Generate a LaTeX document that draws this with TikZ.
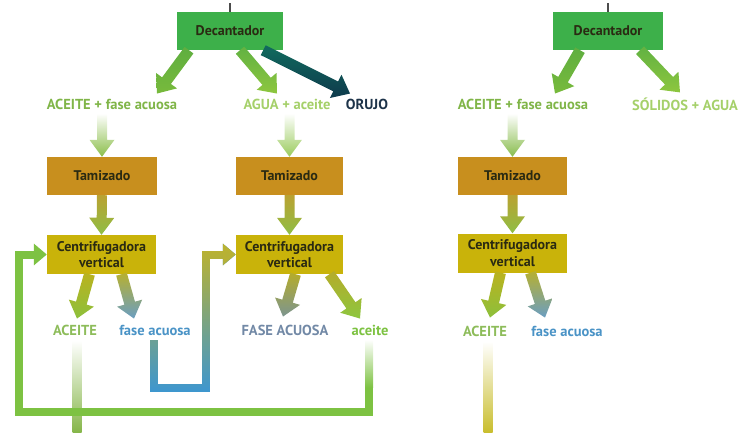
\documentclass[tikz,border=0pt]{standalone}
\usepackage{fontspec}
\setmainfont{PT Sans}
\usetikzlibrary{calc,arrows.meta,fadings}

\definecolor{decgreen}{HTML}{3DB04A}
\definecolor{tamgold}{HTML}{C88F1E}
\definecolor{cenolive}{HTML}{C9B30A}
\definecolor{boxtext}{HTML}{2A2A12}
\definecolor{loopgreen}{HTML}{7DC242}
\definecolor{loopblue}{HTML}{3E97D0}
\definecolor{loopolive}{HTML}{B9B233}
\definecolor{labgreen}{HTML}{80B548}
\definecolor{labltgreen}{HTML}{A5D06A}
\definecolor{labnavy}{HTML}{1D3349}
\definecolor{labblue}{HTML}{4A93C6}
\definecolor{labslate}{HTML}{7289A6}
% arrow gradient ends
\definecolor{decA}{HTML}{5FAE40}
\definecolor{decB}{HTML}{78BA3C}
\definecolor{decC}{HTML}{62B242}
\definecolor{decD}{HTML}{8DC63F}
\definecolor{teal}{HTML}{116B5E}
\definecolor{navy}{HTML}{0E3A4C}
\definecolor{sieveA}{HTML}{8BBE4A}
\definecolor{sieveB}{HTML}{9ACB5D}
\definecolor{sieveC}{HTML}{88BC4C}
\definecolor{tamA}{HTML}{B9A232}
\definecolor{tamB}{HTML}{8FBE45}
\definecolor{cenA}{HTML}{BAB21E}
\definecolor{cenB}{HTML}{8DC03C}
\definecolor{cenC}{HTML}{B7B030}
\definecolor{cenD}{HTML}{6A9EC2}
\definecolor{cenE}{HTML}{B5AC2A}
\definecolor{cenF}{HTML}{7C9590}
\definecolor{oilgreen}{HTML}{86B64A}
\definecolor{oilyellow}{HTML}{C9BE2E}

\tikzfading[name=olivetop, top color=transparent!0, bottom color=transparent!100]

% thick shaded arrow drawn as a polygon:
% #1 shaft half width, #2 head half width, #3 head length,
% #4 start, #5 tip, #6 top colour, #7 bottom colour
\newcommand\fatarrow[7]{%
  \path (#4) coordinate (fa-s) (#5) coordinate (fa-t);
  \path ($(fa-t)!#3!(fa-s)$) coordinate (fa-h);
  \shade[top color=#6, bottom color=#7]
    ($(fa-s)!#1!90:(fa-t)$) -- ($(fa-h)!#1!-90:(fa-s)$) --
    ($(fa-h)!#2!-90:(fa-s)$) -- (fa-t) -- ($(fa-h)!#2!90:(fa-s)$) --
    ($(fa-h)!#1!90:(fa-s)$) -- ($(fa-s)!#1!-90:(fa-t)$) -- cycle;}

\tikzset{
  proc/.style={minimum height=38pt, inner sep=0pt, align=center,
    font=\fontsize{14}{16.5}\selectfont\bfseries, text=boxtext},
  decbox/.style={proc, fill=decgreen},
  tambox/.style={proc, fill=tamgold},
  cenbox/.style={proc, fill=cenolive, minimum height=39pt},
  lab/.style={inner sep=0pt, font=\fontsize{14.5}{16}\selectfont\bfseries},
  loop/.style={line width=8pt, line join=miter, line cap=butt,
    -{Triangle[width=21pt,length=13pt]}}
}

\begin{document}
\begin{tikzpicture}[x=1pt,y=-1pt]
\useasboundingbox (0,0) rectangle (742,432);

% ---------------- left line: two-phase decanter ----------------
\node[decbox, minimum width=106pt] (dec1) at (230,31) {Decantador};
\coordinate (in1) at (230,3);
\draw[line width=1.5pt, black!70] (in1) -- (dec1.north);

\node[lab, text=labgreen]    (lab1)  at (112,104) {ACEITE + fase acuosa};
\node[lab, text=labltgreen]  (lab2)  at (287,104) {AGUA + aceite};
\node[lab, text=labnavy]     (orujo) at (367,104) {ORUJO};

\node[tambox, minimum width=110pt] (tam1) at (102,176) {Tamizado};
\node[tambox, minimum width=107pt] (tam2) at (289.5,176) {Tamizado};

\node[cenbox, minimum width=109pt] (cen1) at (101.5,254.5) {Centrifugadora\\vertical};
\node[cenbox, minimum width=107pt] (cen2) at (289.5,254.5) {Centrifugadora\\vertical};

\node[lab, text=labgreen!90!white] (ace1) at (75,330)  {ACEITE};
\node[lab, text=labblue]           (fa1)  at (155,330) {fase acuosa};
\node[lab, text=labslate]          (fa2)  at (285,330) {FASE ACUOSA};
\node[lab, text=loopgreen]         (ac2)  at (370,330) {aceite};

% decanter outputs
\fatarrow{5.5pt}{13pt}{16pt}{$(dec1.south)+(-41,0)$}{$(lab1.north)+(45,-5)$}{decA}{decB}
\fatarrow{5.5pt}{13pt}{16pt}{$(dec1.south)+(10,0)$}{$(lab2.north)+(-10,-5)$}{decC}{decD}
\fatarrow{5.5pt}{13pt}{16pt}{$(dec1.south east)+(-20,0)$}{$(orujo.north)+(-17,-5)$}{teal}{navy}

% sieving
\fatarrow{5pt}{12.5pt}{17pt}{$(lab1.south -| tam1.north)+(0,4)$}{tam1.north}{white}{sieveA}
\fatarrow{5pt}{12.5pt}{17pt}{$(lab2.south -| tam2.north)+(0,4)$}{tam2.north}{white}{sieveB}
\fatarrow{5pt}{12.5pt}{17pt}{tam1.south}{cen1.north}{tamA}{tamB}
\fatarrow{5pt}{12.5pt}{17pt}{tam2.south}{cen2.north}{tamA}{tamB}

% centrifuge outputs
\fatarrow{5.5pt}{13pt}{16pt}{$(cen1.south)+(-12,0)$}{$(ace1.north)+(2,-6)$}{cenA}{cenB}
\fatarrow{5.5pt}{13pt}{16pt}{$(cen1.south)+(20,0)$}{$(fa1.north)+(-21,-6)$}{cenC}{cenD}
\fatarrow{5.5pt}{13pt}{16pt}{$(cen2.south)+(6,0)$}{$(fa2.north)+(-2,-8)$}{cenE}{cenF}
\fatarrow{5.5pt}{13pt}{16pt}{$(cen2.south)+(40,0)$}{$(ac2.north)+(-10,-6)$}{cenE}{decD}

% oil output (drawn first, the return line crosses over it)
\coordinate (out1) at (77,432);
\shade[top color=white, bottom color=oilgreen]
  ($(ace1.south -| out1)+(-4.5,5)$) rectangle ($(out1)+(4.5,0)$);

% aqueous phase of the first centrifuge fed to the second one
\coordinate (bluebend) at (206,388);
\draw[loop, loopblue] ($(fa1.south)+(-1,5)$) |- (bluebend) |- (cen2.west);
\draw[loop, loopolive, path fading=olivetop] ($(fa1.south)+(-1,5)$) |- (bluebend) |- (cen2.west);

% oil of the second centrifuge returned to the first one
\coordinate (greenbend) at (19,412);
\draw[loop, loopgreen] ($(ac2.south)+(-1,5)$) |- (greenbend) |- (cen1.west);
\shade[top color=white, bottom color=loopgreen]
  ($(ac2.south)+(-5,4)$) rectangle ($(ac2.south)+(3,52)$);

% ---------------- right line ----------------
\node[decbox, minimum width=110pt] (dec2) at (608,31) {Decantador};
\coordinate (in2) at (608,3);
\draw[line width=1.5pt, black!70] (in2) -- (dec2.north);

\node[lab, text=labgreen]            (lab3) at (523,104) {ACEITE + fase acuosa};
\node[lab, text=labltgreen, anchor=west] (lab4) at (632,104) {SÓLIDOS + AGUA};

\node[tambox, minimum width=109pt] (tam3) at (512.5,176) {Tamizado};
\node[cenbox, minimum width=109pt] (cen3) at (512.5,253) {Centrifugadora\\vertical};

\node[lab, text=labgreen!90!white] (ace3) at (485,331) {ACEITE};
\node[lab, text=labblue]           (fa3)  at (567,331) {fase acuosa};

\fatarrow{5.5pt}{13pt}{16pt}{$(dec2.south)+(-28,0)$}{$(lab3.north)+(32,-5)$}{decA}{decB}
\fatarrow{5.5pt}{13pt}{16pt}{$(dec2.south)+(32,0)$}{$(lab4.north west)+(48,-5)$}{decC}{decD}

\fatarrow{5pt}{12.5pt}{17pt}{$(lab3.south -| tam3.north)+(0,4)$}{tam3.north}{white}{sieveC}
\fatarrow{5pt}{12.5pt}{17pt}{tam3.south}{cen3.north}{tamA}{tamB}

\fatarrow{5.5pt}{13pt}{16pt}{$(cen3.south)+(-12,0)$}{$(ace3.north)+(5,-8)$}{cenA}{cenB}
\fatarrow{5.5pt}{13pt}{16pt}{$(cen3.south)+(18,0)$}{$(fa3.north)+(-22,-8)$}{cenC}{cenD}

\coordinate (out3) at (488,432);
\shade[top color=white, bottom color=oilyellow]
  ($(ace3.south -| out3)+(-4.5,5)$) rectangle ($(out3)+(4.5,0)$);
\end{tikzpicture}
\end{document}
